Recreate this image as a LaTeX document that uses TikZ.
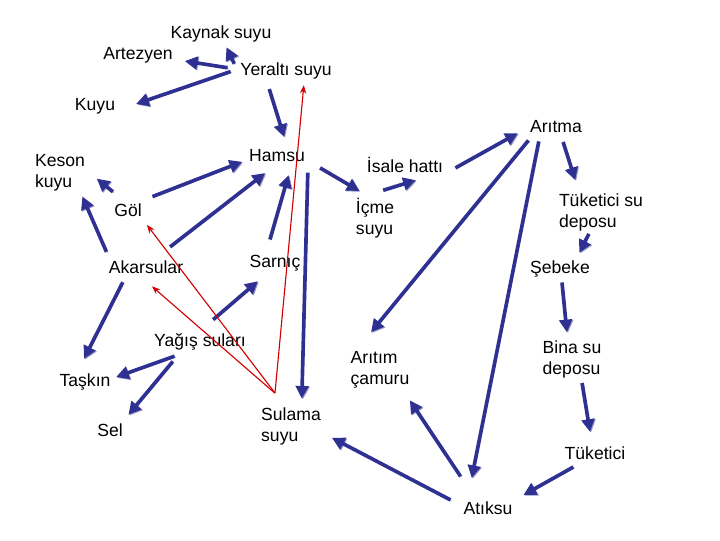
\documentclass[tikz,border=0pt]{standalone}
\usepackage{fontspec}
\setmainfont{Liberation Sans}
\usepackage{xcolor}
\usetikzlibrary{arrows.meta}
\definecolor{lacivert}{HTML}{2E3192}
\definecolor{golge}{HTML}{9496C4}
\definecolor{kirmizi}{HTML}{D40000}

\begin{document}
\begin{tikzpicture}[x=0.025cm, y=-0.025cm, font=\fontsize{12.5}{15}\selectfont,
  term/.style={inner sep=2pt, text height=9.1pt, text depth=2.6pt},
  term2/.style={inner sep=2pt, align=left},
  akis/.style={draw=lacivert, line width=2.6pt, -{Triangle[length=9pt,width=9pt]},
    preaction={draw=golge, transform canvas={shift={(0.7pt,-0.6pt)}}}},
  geri/.style={draw=kirmizi, line width=0.8pt, -{Stealth[length=6pt,width=4.5pt]}}]
  \useasboundingbox (0,0) rectangle (720,540);

  % Yeraltı suyu
  \node[term] (kaynak) at (221,34) {Kaynak suyu};
  \node[term] (artezyen) at (138,55) {Artezyen};
  \node[term] (yeralti) at (286,71) {Yeraltı suyu};
  \node[term] (kuyu) at (95,106) {Kuyu};
  \node[term2] (keson) at (60,173) {Keson\\kuyu};

  % Yüzey suları
  \node[term] (hamsu) at (277,157) {Hamsu};
  \node[term] (gol) at (128,212) {Göl};
  \node[term] (akarsular) at (146,269) {Akarsular};
  \node[term] (sarnic) at (275,263) {Sarnıç};
  \node[term] (yagis) at (200,342) {Yağış suları};
  \node[term] (taskin) at (85,382) {Taşkın};
  \node[term] (sel) at (110,432) {Sel};
  \node[term2] (sulama) at (291,426) {Sulama\\suyu};

  % İçme suyu hattı
  \node[term2] (icme) at (375,218) {İçme\\suyu};
  \node[term] (isale) at (405,168) {İsale hattı};
  \node[term] (aritma) at (556,128) {Arıtma};
  \node[term2] (tukdepo) at (601,212) {Tüketici su\\deposu};
  \node[term] (sebeke) at (560,269) {Şebeke};
  \node[term2] (binadepo) at (572,359) {Bina su\\deposu};
  \node[term] (tuketici) at (595,455) {Tüketici};
  \node[term] (atiksu) at (488,510) {Atıksu};
  \node[term2] (camur) at (380,370) {Arıtım\\çamuru};

  % Oklar
  \draw[akis, shorten <=5pt, shorten >=1.5pt] (yeralti.179) -- (kaynak.-68);
  \draw[akis, shorten <=7pt, shorten >=6.5pt] (yeralti.178.6) -- (artezyen.-7);
  \draw[akis, shorten <=5pt, shorten >=13.5pt] (yeralti.178.4) -- (kuyu.-10);
  \draw[akis, shorten <=5pt, shorten >=6.5pt] (yeralti.-149) -- (hamsu.49);
  \draw[akis, shorten <=10pt, shorten >=8pt] (gol.110) -- (keson.3);
  \draw[akis, shorten <=8pt, shorten >=3pt] (gol.39) -- (hamsu.186);
  \draw[akis, shorten <=4.5pt, shorten >=1.5pt] (akarsular.163) -- (keson.-45);
  \draw[akis, shorten <=12.5pt, shorten >=5.5pt] (akarsular.48) -- (hamsu.-117);
  \draw[akis, shorten <=9pt, shorten >=5pt] (sarnic.127) -- (hamsu.-40);
  \draw[akis, shorten <=3.5pt, shorten >=4pt] (hamsu.-19.5) -- (sulama.64);
  \draw[akis, shorten <=10pt, shorten >=5.5pt] (hamsu.-7) -- (icme.111);
  \draw[akis, shorten <=11pt, shorten >=2pt] (icme.106) -- (isale.-40);
  \draw[akis, shorten <=7.5pt, shorten >=7.5pt] (isale.-7) -- (aritma.180);
  \draw[akis, shorten <=1pt, shorten >=15pt] (aritma.-157) -- (camur.136);
  \draw[akis, shorten <=1.5pt, shorten >=15pt] (aritma.-146) -- (atiksu.151);
  \draw[akis, shorten <=2pt, shorten >=7.5pt] (aritma.-61) -- (tukdepo.136);
  \draw[akis, shorten <=0pt, shorten >=4pt] (tukdepo.-119) -- (sebeke.34);
  \draw[akis, shorten <=1.5pt, shorten >=3.5pt] (sebeke.-81) -- (binadepo.102);
  \draw[akis, shorten <=1.5pt, shorten >=8.5pt] (binadepo.-66) -- (tuketici.105);
  \draw[akis, shorten <=1pt, shorten >=6.5pt] (tuketici.-151) -- (atiksu.21);
  \draw[akis, shorten <=19pt, shorten >=7.5pt] (atiksu.138) -- (camur.-42);
  \draw[akis, shorten <=8pt, shorten >=6.5pt] (atiksu.170) -- (sulama.-13);
  \draw[akis, shorten <=12pt, shorten >=7.5pt] (yagis.88) -- (sarnic.-129);
  \draw[akis, shorten <=6pt, shorten >=2pt] (yagis.-147) -- (taskin.8);
  \draw[akis, shorten <=7.5pt, shorten >=5.5pt] (yagis.-151) -- (sel.40);
  \draw[akis, shorten <=1.5pt, shorten >=9.5pt] (akarsular.-153) -- (taskin.122);

  % Sulama suyu geri dönüş
  \draw[geri, shorten <=8pt, shorten >=2pt] (sulama.128) -- (yeralti.-32);
  \draw[geri, shorten <=10pt, shorten >=2.5pt] (sulama.109) -- (gol.-31);
  \draw[geri, shorten <=12pt, shorten >=6.5pt] (sulama.99) -- (akarsular.-95);
\end{tikzpicture}
\end{document}
